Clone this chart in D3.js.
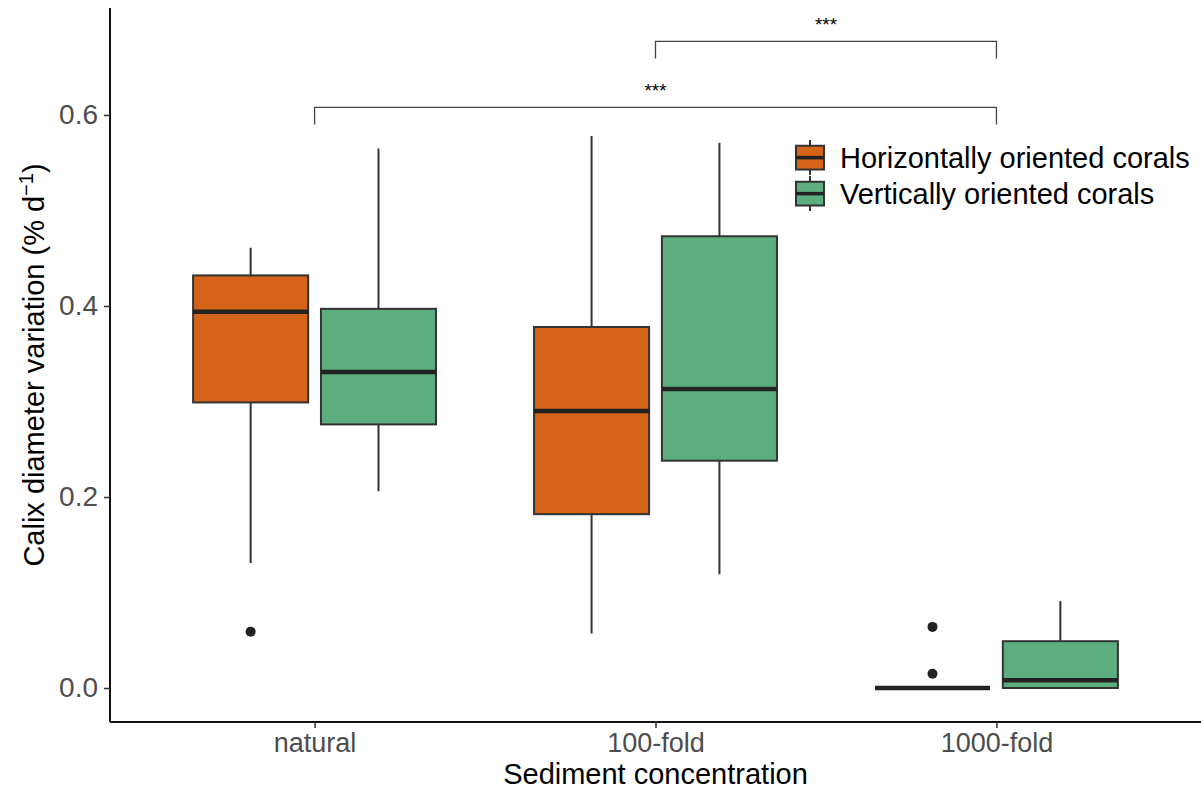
<!DOCTYPE html>
<html>
<head>
<meta charset="utf-8">
<script src="https://cdn.jsdelivr.net/npm/d3@7"></script>
<style>
  body { margin: 0; background: #fff; }
  text { font-family: "Liberation Sans", Arial, sans-serif; }
</style>
</head>
<body>
<div id="chart"></div>
<script>
const width = 1201;
const height = 789;

// data
const categories = ["natural", "100-fold", "1000-fold"];
const groups = ["Horizontally oriented corals", "Vertically oriented corals"];
const colors = ["#D5631A", "#5DAE7E"];

const horizMin = [0.131, 0.057, 0];
const horizQ1 = [0.299, 0.182, 0];
const horizMedian = [0.394, 0.290, 0];
const horizQ3 = [0.432, 0.378, 0];
const horizMax = [0.461, 0.578, 0];
const horizOutliers = [[0.059], [], [0.064, 0.015]];

const vertMin = [0.206, 0.119, 0];
const vertQ1 = [0.276, 0.238, 0];
const vertMedian = [0.331, 0.313, 0.008];
const vertQ3 = [0.397, 0.473, 0.049];
const vertMax = [0.565, 0.571, 0.091];
const vertOutliers = [[], [], []];

const yTicks = [0, 0.2, 0.4, 0.6];

const bracketFrom = ["100-fold", "natural"];
const bracketTo = ["1000-fold", "1000-fold"];
const bracketY = [0.677, 0.608];
const bracketLabel = ["***", "***"];

const panel = {left: 110, right: 1201, top: 8, bottom: 722};

const svg = d3.select("#chart").append("svg")
  .attr("width", width)
  .attr("height", height);

const x = d3.scalePoint()
  .domain(categories)
  .range([panel.left, panel.right])
  .padding(0.6);

const y = d3.scaleLinear()
  .domain([-0.0356, 0.712])
  .range([panel.bottom, panel.top]);

const dodge = d3.scaleBand()
  .domain(groups)
  .range([-x.step() * 0.375, x.step() * 0.375]);

const boxW = x.step() * 0.3375;

const makeBoxes = (mins, q1s, meds, q3s, maxs, outs, g) =>
  categories.map((c, i) => ({
    cat: c, group: g, min: mins[i], q1: q1s[i], med: meds[i],
    q3: q3s[i], max: maxs[i], outliers: outs[i]
  }));

const boxes = makeBoxes(horizMin, horizQ1, horizMedian, horizQ3, horizMax, horizOutliers, groups[0])
  .concat(makeBoxes(vertMin, vertQ1, vertMedian, vertQ3, vertMax, vertOutliers, groups[1]));

const cx = d => x(d.cat) + dodge(d.group) + dodge.bandwidth() / 2;
const color = d3.scaleOrdinal().domain(groups).range(colors);

// axes
const yAxis = svg.append("g")
  .attr("transform", `translate(${panel.left},0)`)
  .call(d3.axisLeft(y).tickValues(yTicks).tickFormat(d3.format(".1f")).tickSize(6).tickSizeOuter(0));
yAxis.select(".domain").attr("stroke", "#111").attr("stroke-width", 2)
  .attr("d", `M0,${panel.top}V${panel.bottom}`);
yAxis.selectAll(".tick line").attr("stroke", "#333").attr("stroke-width", 1.5);
yAxis.selectAll(".tick text").attr("fill", "#4d4d4d").attr("font-size", 28).attr("x", -12)
  .attr("font-family", "Liberation Sans, Arial, sans-serif");

const xAxis = svg.append("g")
  .attr("transform", `translate(0,${panel.bottom})`)
  .call(d3.axisBottom(x).tickSize(6).tickSizeOuter(0));
xAxis.select(".domain").attr("stroke", "#111").attr("stroke-width", 2)
  .attr("d", `M${panel.left},0H${panel.right}`);
xAxis.selectAll(".tick line").attr("stroke", "#333").attr("stroke-width", 1.5);
xAxis.selectAll(".tick text").attr("fill", "#4d4d4d").attr("font-size", 27).attr("y", 11)
  .attr("font-family", "Liberation Sans, Arial, sans-serif");

svg.append("text")
  .attr("x", (panel.left + panel.right) / 2)
  .attr("y", 784)
  .attr("text-anchor", "middle")
  .attr("font-size", 29)
  .text("Sediment concentration");

const yTitle = svg.append("text")
  .attr("transform", `translate(44,${(panel.top + panel.bottom) / 2}) rotate(-90)`)
  .attr("text-anchor", "middle")
  .attr("font-size", 29);
yTitle.append("tspan").text("Calix diameter variation (% d");
yTitle.append("tspan").attr("font-size", 20).attr("dy", -11).text("\u22121");
yTitle.append("tspan").attr("dy", 11).text(")");

// boxplots
const bx = svg.append("g").selectAll("g").data(boxes).join("g");

bx.append("line")
  .attr("x1", cx).attr("x2", cx)
  .attr("y1", d => y(d.max)).attr("y2", d => y(d.min))
  .attr("stroke", "#333").attr("stroke-width", 2);

bx.append("rect")
  .attr("x", d => cx(d) - boxW / 2)
  .attr("width", boxW)
  .attr("y", d => y(d.q3))
  .attr("height", d => y(d.q1) - y(d.q3))
  .attr("fill", d => color(d.group))
  .attr("stroke", "#333").attr("stroke-width", 2);

bx.append("line")
  .attr("x1", d => cx(d) - boxW / 2).attr("x2", d => cx(d) + boxW / 2)
  .attr("y1", d => y(d.med)).attr("y2", d => y(d.med))
  .attr("stroke", "#222").attr("stroke-width", 4.5);

bx.selectAll("circle").data(d => d.outliers.map(v => ({v, d}))).join("circle")
  .attr("cx", o => cx(o.d)).attr("cy", o => y(o.v)).attr("r", 5)
  .attr("fill", "#222");

// significance brackets
const tickDrop = 0.018;
bracketFrom.forEach((from, i) => {
  const x1 = x(from), x2 = x(bracketTo[i]), yy = y(bracketY[i]);
  svg.append("path")
    .attr("d", `M${x1},${y(bracketY[i] - tickDrop)}V${yy}H${x2}V${y(bracketY[i] - tickDrop)}`)
    .attr("fill", "none").attr("stroke", "#444").attr("stroke-width", 1.3);
  svg.append("text")
    .attr("x", (x1 + x2) / 2).attr("y", yy - 10)
    .attr("text-anchor", "middle").attr("font-size", 19)
    .text(bracketLabel[i]);
});

// legend
const legend = svg.append("g").attr("transform", "translate(796,140)");
const keyH = 36, keyW = 28;
groups.forEach((g, i) => {
  const row = legend.append("g").attr("transform", `translate(0,${i * keyH})`);
  row.append("line").attr("x1", keyW / 2).attr("x2", keyW / 2)
    .attr("y1", 0).attr("y2", keyH - 1).attr("stroke", "#333").attr("stroke-width", 2);
  row.append("rect").attr("x", 0).attr("y", keyH * 0.16).attr("width", keyW).attr("height", keyH * 0.66)
    .attr("fill", colors[i]).attr("stroke", "#333").attr("stroke-width", 2);
  row.append("line").attr("x1", 0).attr("x2", keyW)
    .attr("y1", keyH * 0.49).attr("y2", keyH * 0.49).attr("stroke", "#222").attr("stroke-width", 3.5);
  row.append("text").attr("x", 44).attr("y", keyH / 2).attr("dy", "0.35em")
    .attr("font-size", 29).text(g);
});
</script>
</body>
</html>
